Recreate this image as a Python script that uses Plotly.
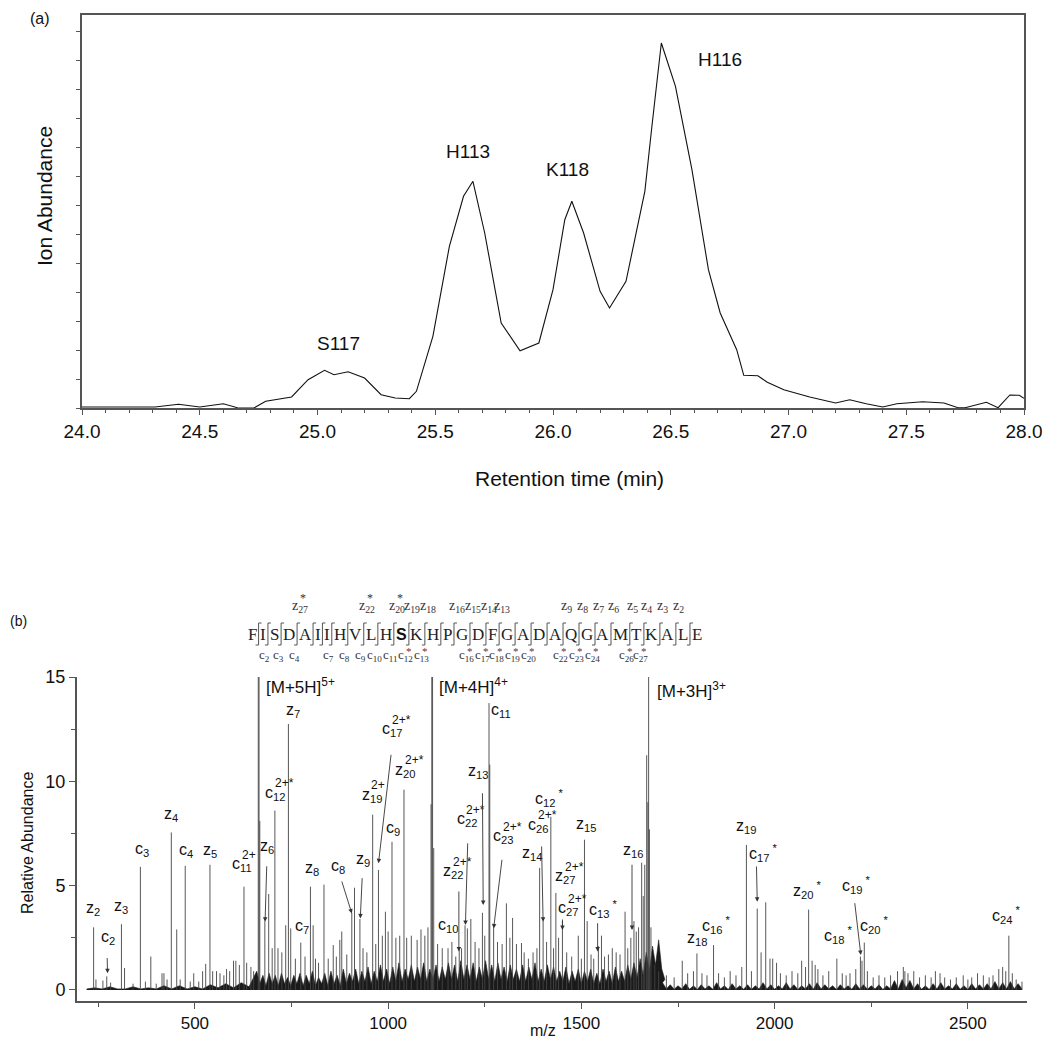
import plotly.graph_objects as go

# ---------------- (a) extracted ion chromatogram ----------------
rt_min = [24.0, 24.08, 24.31, 24.41, 24.5, 24.6, 24.66, 24.73, 24.78, 24.89, 24.96, 25.03,
          25.07, 25.13, 25.2, 25.27, 25.33, 25.39, 25.42, 25.49, 25.56, 25.62, 25.66, 25.71,
          25.78, 25.86, 25.94, 26.0, 26.05, 26.08, 26.13, 26.2, 26.24, 26.31, 26.39, 26.42,
          26.46, 26.52, 26.59, 26.66, 26.71, 26.78, 26.81, 26.87, 26.91, 26.98, 27.09, 27.2,
          27.26, 27.33, 27.4, 27.46, 27.57, 27.66, 27.72, 27.75, 27.84, 27.89, 27.94, 27.98, 28.0]
ion_abundance = [1, 1, 1, 3.7, 1, 4.3, 0.3, 0, 6.7, 11, 28.3, 37.7,
                 33.3, 36.3, 30, 13.3, 10, 9.3, 16.7, 71.7, 161.7, 211.7, 226.7, 175,
                 85, 57.3, 65, 118.3, 188.3, 206.7, 175, 116.7, 100, 126.7, 216.7, 281.7,
                 365, 321.7, 238.3, 138.3, 95, 58.3, 32.7, 32.3, 25.7, 18.3, 11, 5,
                 8.3, 4.3, 1, 4.3, 6.3, 5, 0.3, 0.3, 5.7, 0.3, 13, 12.7, 9.7]
rt_ticks = [24.0, 24.5, 25.0, 25.5, 26.0, 26.5, 27.0, 27.5, 28.0]
site_names = ["S117", "H113", "K118", "H116"]
site_rt = [25.09, 25.64, 26.06, 26.71]
site_y = [65, 256, 238, 348]

# ---------------- (b) ETD spectrum ----------------
peak_mz = [238, 244, 262, 272, 282, 310, 318, 340, 359, 372, 386, 400, 415, 420, 428, 439, 453,
           462, 475, 488, 497, 510, 520, 528, 539, 546, 556, 565, 575, 582, 590, 600, 606, 615,
           627, 634, 645, 652, 664, 666, 668, 681, 691, 700, 707, 715, 725, 735, 742, 748, 760,
           774, 785, 799, 806, 812, 820, 834, 845, 858, 866, 875, 880, 893, 906, 913, 927, 935,
           945, 960, 968, 975, 985, 993, 1000, 1010, 1020, 1030, 1041, 1048, 1060, 1075, 1085,
           1095, 1103, 1111, 1113, 1115, 1118, 1128, 1140, 1155, 1165, 1175, 1184, 1190, 1199,
           1205, 1214, 1225, 1235, 1244, 1250, 1261, 1263, 1273, 1283, 1295, 1306, 1315, 1322,
           1332, 1345, 1352, 1363, 1375, 1385, 1392, 1401, 1410, 1421, 1428, 1434, 1441, 1451,
           1462, 1475, 1492, 1500, 1508, 1515, 1525, 1532, 1544, 1552, 1560, 1570, 1580, 1590,
           1600, 1613, 1620, 1628, 1636, 1642, 1648, 1656, 1660, 1664, 1669, 1672, 1674, 1676,
           1680, 1690, 1700, 1720, 1740, 1761, 1775, 1790, 1799, 1812, 1825, 1842, 1855, 1870,
           1885, 1900, 1915, 1927, 1940, 1955, 1965, 1977, 1988, 1995, 2005, 2015, 2030, 2045,
           2060, 2070, 2080, 2088, 2097, 2105, 2112, 2125, 2140, 2161, 2175, 2185, 2195, 2210,
           2222, 2226, 2232, 2240, 2255, 2270, 2285, 2300, 2318, 2333, 2337, 2345, 2360, 2375,
           2390, 2405, 2416, 2428, 2440, 2455, 2470, 2488, 2500, 2510, 2525, 2540, 2555, 2565,
           2580, 2590, 2598, 2606, 2615, 2625, 2640]
peak_abund = [3.0, 0.5, 0.45, 0.65, 0.35, 3.15, 1.05, 0.3, 5.9, 0.4, 1.6, 0.3, 0.8, 0.8, 0.5, 7.55, 2.9,
              0.5, 5.95, 0.4, 0.8, 0.4, 0.9, 1.25, 6.0, 0.9, 0.9, 0.8, 0.7, 1.0, 0.9, 1.4, 1.4, 1.2,
              4.95, 1.3, 1.1, 0.9, 16, 16, 8.1, 3.3, 4.6, 2.0, 8.6, 2.0, 1.8, 3.1, 12.75, 2.95, 1.5,
              2.27, 1.6, 4.95, 3.1, 1.5, 1.3, 5.05, 1.5, 2.15, 1.6, 2.4, 2.8, 1.7, 3.7, 4.9, 3.4, 2.0,
              1.8, 8.4, 2.2, 5.75, 2.6, 3.75, 2.8, 7.1, 2.5, 2.6, 9.6, 2.5, 2.6, 2.4, 2.9,
              2.6, 3.0, 8.9, 16, 15.5, 6.8, 2.2, 2.0, 2.0, 2.3, 1.6, 1.9, 2.0, 3.1,
              2.95, 3.4, 2.3, 2.0, 3.7, 2.6, 13.75, 10.8, 3.0, 2.3, 2.2, 4.15, 2.5, 3.45,
              2.2, 2.25, 1.8, 1.5, 1.8, 2.0, 5.85, 3.3, 2.3, 8.3, 2.0, 4.65, 2.5, 3.3,
              1.8, 1.6, 2.6, 1.5, 7.2, 3.3, 1.7, 1.5, 2.1, 2.6, 1.6, 1.7, 2.0, 1.8,
              1.7, 3.75, 2.0, 2.5, 3.3, 2.8, 3.0, 6.1, 4.5, 6.0, 11.25, 9.0, 16, 7.7,
              3.0, 1.2, 0.9, 0.7, 0.6, 1.4, 0.8, 0.9, 1.75, 0.8, 0.7, 2.15, 0.8, 0.6,
              0.9, 0.7, 1.1, 6.95, 0.9, 3.9, 1.8, 4.2, 1.5, 1.5, 1.3, 0.8, 0.7, 0.9,
              0.8, 1.4, 1.1, 3.85, 1.4, 1.2, 1.0, 0.7, 0.9, 1.5, 0.8, 0.7, 0.8, 1.0,
              1.6, 1.4, 2.27, 0.9, 0.6, 0.7, 0.6, 0.7, 0.9, 1.1, 0.9, 0.8, 0.9, 0.6,
              0.7, 0.6, 0.9, 0.8, 0.6, 0.5, 0.6, 0.7, 0.5, 0.6, 0.8, 0.7, 0.6, 0.7,
              1.0, 1.1, 0.9, 2.6, 0.8, 0.5, 0.4]

# unresolved chemical-noise floor (three sampled stretches)
noise_a_start, noise_a_step = 220, 20
noise_a = [0.05, 0.1, 0.05, 0.15, 0.05, 0.05, 0.15, 0.05, 0.1, 0.05, 0.2, 0.05, 0.2, 0.05, 0.15,
           0.05, 0.25, 0.1, 0.3, 0.1, 0.35, 0.15]
noise_b_start, noise_b_step = 660, 8
noise_b = [0.9, 0.3, 0.7, 0.2, 0.8, 0.3, 0.7, 0.2, 0.8, 0.3, 0.6, 0.2, 0.7, 0.3, 0.8,
           0.2, 0.7, 0.3, 0.9, 0.2, 0.6, 0.3, 0.8, 0.2, 0.9, 0.3, 0.7, 0.2, 1.0, 0.3,
           0.8, 0.4, 1.0, 0.3, 0.9, 0.4, 1.1, 0.3, 0.9, 0.4, 1.2, 0.4, 1.0, 0.3, 1.1,
           0.4, 1.3, 0.4, 1.0, 0.5, 1.2, 0.4, 1.1, 0.5, 1.3, 0.4, 1.0, 0.5, 1.2, 0.4,
           1.1, 0.5, 1.3, 0.5, 1.2, 0.4, 1.4, 0.5, 1.2, 0.5, 1.3, 0.4, 1.1, 0.5, 1.4,
           0.5, 1.2, 0.4, 1.3, 0.5, 1.1, 0.4, 1.2, 0.5, 1.0, 0.4, 1.2, 0.4, 1.1, 0.5,
           1.3, 0.4, 1.0, 0.4, 1.2, 0.5, 1.1, 0.4, 0.9, 0.4, 1.1, 0.3, 0.9, 0.4, 1.0,
           0.3, 0.9, 0.4, 1.0, 0.3, 0.8, 0.3, 1.0, 0.4, 0.9, 0.3, 1.1, 0.4, 0.9, 0.4,
           1.2, 0.5, 1.3, 0.6, 1.5, 0.7, 1.8, 0.9, 2.1, 1.2, 2.4, 1.0, 0.5]
noise_c_start, noise_c_step = 1710, 10
noise_c = [0.35, 0.05, 0.25, 0.03, 0.2, 0.05, 0.3, 0.03, 0.2, 0.02, 0.25, 0.05, 0.2, 0.03, 0.35,
           0.05, 0.2, 0.02, 0.3, 0.05, 0.2, 0.03, 0.25, 0.02, 0.2, 0.05, 0.35, 0.05, 0.25, 0.03,
           0.2, 0.05, 0.35, 0.05, 0.25, 0.02, 0.2, 0.05, 0.3, 0.03, 0.35, 0.05, 0.25, 0.05, 0.2,
           0.02, 0.25, 0.05, 0.2, 0.03, 0.3, 0.05, 0.25, 0.03, 0.2, 0.05, 0.25, 0.02, 0.2, 0.05,
           0.45, 0.05, 0.5, 0.1, 0.45, 0.05, 0.3, 0.03, 0.2, 0.02, 0.3, 0.05, 0.35, 0.05, 0.2,
           0.05, 0.3, 0.03, 0.2, 0.02, 0.3, 0.05, 0.25, 0.05, 0.3, 0.05, 0.4, 0.05, 0.35, 0.05,
           0.4, 0.05, 0.3, 0.05]

# fragment-ion labels: letter, index, charge/mark (superscript), position
ion_letter = ["z", "c", "z", "c", "z", "c", "z", "c", "z", "c", "z", "c", "z", "c", "z", "z",
              "c", "c", "z", "c", "z", "c", "z", "c", "c", "z", "c", "c", "z", "c", "z", "c",
              "z", "z", "c", "z", "c", "z", "c", "c", "c", "c"]
ion_index = [2, 2, 3, 3, 4, 4, 5, 11, 6, 12, 7, 7, 8, 8, 9, 19, 17, 9, 20, 10, 22, 22, 13, 11,
             23, 14, 26, 12, 27, 27, 15, 13, 16, 18, 16, 19, 17, 20, 18, 19, 20, 24]
ion_mark = ["", "", "", "", "", "", "", "2+", "", "2+*", "", "", "", "", "", "2+", "2+*", "",
            "2+*", "", "2+*", "2+*", "", "", "2+*", "", "2+*", "*", "2+*", "2+*", "", "*", "",
            "", "*", "", "*", "*", "*", "*", "*", "*"]
ion_label_mz = [237, 274, 310, 362, 437, 477, 539, 623, 686, 707, 754, 776, 802, 871, 934, 957,
                1011, 1013, 1043, 1155, 1168, 1203, 1233, 1293, 1297, 1373, 1388, 1418, 1457, 1466,
                1513, 1556, 1634, 1799, 1849, 1927, 1970, 2086, 2164, 2211, 2259, 2601]
ion_label_y = [3.9, 2.5, 4.0, 6.75, 8.43, 6.7, 6.7, 6.0, 6.87, 9.43, 13.4, 3.03, 5.8, 5.9, 6.27,
               9.34, 12.46, 7.75, 10.54, 3.11, 5.67, 8.15, 10.46, 13.4, 7.35, 6.55, 7.9, 9.18,
               5.43, 3.9, 7.95, 3.9, 6.7, 2.47, 3.11, 7.83, 6.55, 4.79, 2.64, 5.03, 3.11, 3.59]

arrow_tail_mz = [273, 686, 879, 933, 1008, 1183, 1206, 1244, 1295, 1397, 1451, 1542, 1631, 1953, 2207]
arrow_tail_y = [1.6, 6.0, 5.27, 5.43, 11.34, 4.79, 7.1, 9.5, 6.31, 6.95, 3.45, 3.27, 6.07, 5.99, 4.23]
arrow_head_mz = [274, 681.6, 906, 928, 975, 1183, 1200, 1246, 1273, 1401, 1451, 1542, 1631, 1955, 2223]
arrow_head_y = [0.8, 3.27, 3.67, 3.43, 6.07, 1.84, 3.11, 4.07, 2.95, 3.27, 2.87, 1.84, 2.87, 4.23, 1.68]

precursor_text = ["[M+5H]<sup>5+</sup>", "[M+4H]<sup>4+</sup>", "[M+3H]<sup>3+</sup>"]
precursor_mz = [678.6, 1126.8, 1689.6]
precursor_y = [14.55, 14.55, 14.4]

sequence = "FISDAIIHVLHSKHPGDFGADAQGAMTKALE"
modified_residue = 11          # bold S (0-based index)
z_ions = [27, 22, 20, 19, 18, 16, 15, 14, 13, 9, 8, 7, 6, 5, 4, 3, 2]
z_star = [27, 22, 20]
c_ions = [2, 3, 4, 7, 8, 9, 10, 11, 12, 13, 16, 17, 18, 19, 20, 22, 23, 24, 26, 27]
c_star = [12, 13, 16, 17, 18, 19, 20, 22, 23, 24, 26, 27]

# ---------------- figure ----------------
PAGE_OFF = 8                  # default body margin of the html page
W, H = 1050 - PAGE_OFF, 1038 - PAGE_OFF
FONT = "Liberation Sans, Arial, sans-serif"
SERIF = "Liberation Serif, Times New Roman, serif"


def px(xp):
    return (xp - PAGE_OFF) / W


def py(yp):
    return 1 - (yp - PAGE_OFF) / H


fig = go.Figure()

fig.add_trace(go.Scatter(x=rt_min, y=ion_abundance, mode="lines",
                         line=dict(color="#111111", width=1.1),
                         xaxis="x", yaxis="y", showlegend=False, hoverinfo="skip"))

noise_mz, noise_h = [], []
for start, step, vals in [(noise_a_start, noise_a_step, noise_a),
                          (noise_b_start, noise_b_step, noise_b),
                          (noise_c_start, noise_c_step, noise_c)]:
    for i, v in enumerate(vals):
        noise_mz.append(start + i * step)
        noise_h.append(v)
fig.add_trace(go.Scatter(x=noise_mz, y=noise_h, mode="lines", fill="tozeroy",
                         fillcolor="#1a1a1a", line=dict(color="#1a1a1a", width=0.6),
                         xaxis="x2", yaxis="y2", showlegend=False, hoverinfo="skip"))

stick_x, stick_y = [], []
for m, a in zip(peak_mz, peak_abund):
    stick_x += [m, m, None]
    stick_y += [0, a, None]
fig.add_trace(go.Scatter(x=stick_x, y=stick_y, mode="lines",
                         line=dict(color="#444444", width=0.9),
                         xaxis="x2", yaxis="y2", showlegend=False, hoverinfo="skip"))

annotations = []


def note(**kw):
    kw.setdefault("showarrow", False)
    kw.setdefault("xanchor", "center")
    kw.setdefault("yanchor", "middle")
    annotations.append(kw)


# panel (a) labels
for name, r, yv in zip(site_names, site_rt, site_y):
    note(x=r, y=yv, xref="x", yref="y", text=name,
         font=dict(family=FONT, size=19, color="#111"))
note(x=px(40), y=1, yanchor="top", xref="paper", yref="paper", text="(a)",
     font=dict(family=FONT, size=16, color="#111"))
note(x=px(569), y=py(478), xref="paper", yref="paper", text="Retention time (min)",
     font=dict(family=FONT, size=21, color="#111"))
note(x=px(44), y=py(196), xref="paper", yref="paper", text="Ion Abundance", textangle=-90,
     font=dict(family=FONT, size=21, color="#111"))

# panel (b) labels
note(x=px(18), y=py(621), xref="paper", yref="paper", text="(b)",
     font=dict(family=FONT, size=14, color="#111"))
note(x=px(27), y=py(843), xref="paper", yref="paper", text="Relative Abundance",
     textangle=-90, font=dict(family=FONT, size=16, color="#111"))
note(x=px(543), y=py(1030), xref="paper", yref="paper", text="m/z",
     font=dict(family=FONT, size=16, color="#111"))
for t, m, yv in zip(precursor_text, precursor_mz, precursor_y):
    note(x=m, y=yv, xref="x2", yref="y2", text=t, xanchor="left",
         font=dict(family=FONT, size=17, color="#111"))

LBL = 16
for let, idx, mark, m, yv in zip(ion_letter, ion_index, ion_mark, ion_label_mz, ion_label_y):
    base = "{}<sub>{}</sub>".format(let, idx)
    if mark.startswith("2+"):
        # charge state stacked above the subscript
        sub_w = 0.556 * 0.7 * LBL * len(str(idx))
        base_w = 0.5 * LBL + sub_w
        note(x=m, y=yv, xref="x2", yref="y2", text=base,
             font=dict(family=FONT, size=LBL, color="#111"))
        note(x=m, y=yv, xref="x2", yref="y2", text=mark, xanchor="left",
             xshift=-base_w / 2 + 0.5 * LBL, yshift=10,
             font=dict(family=FONT, size=12, color="#111"))
    elif mark:
        note(x=m, y=yv, xref="x2", yref="y2", text=base + "<sup> " + mark + "</sup>",
             font=dict(family=FONT, size=LBL, color="#111"))
    else:
        note(x=m, y=yv, xref="x2", yref="y2", text=base,
             font=dict(family=FONT, size=LBL, color="#111"))

for tm, ty, hm, hy in zip(arrow_tail_mz, arrow_tail_y, arrow_head_mz, arrow_head_y):
    annotations.append(dict(x=hm, y=hy, ax=tm, ay=ty, xref="x2", yref="y2",
                            axref="x2", ayref="y2", text="", showarrow=True,
                            arrowhead=2, arrowsize=1, arrowwidth=0.9, arrowcolor="#333",
                            standoff=0, startstandoff=0))

# peptide sequence with fragmentation map
glyph_w = dict(F=556, I=333, S=556, D=722, A=722, H=722, V=722, L=611, K=722, P=556,
               G=722, Q=722, M=889, T=611, E=611)
fs = 17
widths = [(667 if i == modified_residue else glyph_w[ch]) * fs / 1000.0
          for i, ch in enumerate(sequence)]
x_first, x_last = 252.0, 697.0
inner = widths[0] / 2 + sum(widths[1:-1]) + widths[-1] / 2
gap = (x_last - x_first - inner) / (len(sequence) - 1)
centers = [x_first]
for i in range(1, len(sequence)):
    centers.append(centers[-1] + widths[i - 1] / 2 + widths[i] / 2 + gap)
seps = [centers[i] + widths[i] / 2 + gap / 2 for i in range(len(sequence) - 1)]

y_letters = 634
for i, ch in enumerate(sequence):
    if i == modified_residue:
        note(x=px(centers[i]), y=py(y_letters), xref="paper", yref="paper", text="<b>S</b>",
             font=dict(family=FONT, size=16, color="#111"))
    else:
        note(x=px(centers[i]), y=py(y_letters), xref="paper", yref="paper", text=ch,
             font=dict(family=SERIF, size=fs, color="#222"))

path = ""
top, bot, hook = 623, 645, 3
for s in seps:
    path += "M{:.5f},{:.5f} L{:.5f},{:.5f} L{:.5f},{:.5f} L{:.5f},{:.5f} ".format(
        px(s + hook), py(top), px(s), py(top), px(s), py(bot), px(s - hook), py(bot))
shapes = [dict(type="path", path=path, xref="paper", yref="paper",
               line=dict(color="#555", width=1))]

for n in z_ions:
    k = len(sequence) - n
    note(x=px(seps[k - 1] + 3), y=py(606), xref="paper", yref="paper",
         text="z<sub>{}</sub>".format(n),
         font=dict(family=SERIF, size=14, color="#333"))
    if n in z_star:
        note(x=px(seps[k - 1] + 6), y=py(598), xref="paper", yref="paper", text="*",
             font=dict(family=SERIF, size=12, color="#333"))
for n in c_ions:
    note(x=px(seps[n - 1] - 3), y=py(655), xref="paper", yref="paper",
         text="c<sub>{}</sub>".format(n),
         font=dict(family=SERIF, size=13, color="#333"))
    if n in c_star:
        note(x=px(seps[n - 1] + 0.5), y=py(651), xref="paper", yref="paper", text="*",
             font=dict(family=SERIF, size=11, color="#7a2b2b"))

axis_line = "#555555"
fig.update_layout(
    width=W, height=H,
    margin=dict(l=0, r=0, t=0, b=0, autoexpand=False),
    paper_bgcolor="white", plot_bgcolor="white",
    showlegend=False,
    font=dict(family=FONT, color="#111"),
    xaxis=dict(domain=[px(82), px(1024)], anchor="y", range=[24, 28], automargin=False,
               tickvals=rt_ticks, ticktext=["{:.1f}".format(t) for t in rt_ticks],
               ticks="outside", ticklen=5, tickcolor=axis_line,
               minor=dict(dtick=0.1, tick0=24, ticks="outside", ticklen=3, tickcolor=axis_line),
               showline=True, linecolor=axis_line, linewidth=1.5, mirror=True,
               showgrid=False, zeroline=False, tickfont=dict(size=19, family=FONT, color="#111")),
    yaxis=dict(domain=[py(408), py(15)], anchor="x", range=[0, 393], automargin=False,
               tick0=0, dtick=29, ticks="outside", ticklen=4, tickcolor=axis_line,
               showticklabels=False, showline=True, linecolor=axis_line, linewidth=1.5,
               mirror=True, showgrid=False, zeroline=False),
    xaxis2=dict(domain=[px(77), px(1027)], anchor="y2", range=[195, 2653], automargin=False,
                tickvals=[500, 1000, 1500, 2000, 2500], ticks="outside", ticklen=6,
                tickcolor=axis_line,
                minor=dict(dtick=250, tick0=0, ticks="outside", ticklen=4, tickcolor=axis_line),
                showline=True, linecolor=axis_line, linewidth=2, showgrid=False,
                zeroline=False, tickfont=dict(size=17, family=FONT, color="#111")),
    yaxis2=dict(domain=[py(1001), py(677)], anchor="x2", range=[-0.53, 15], automargin=False,
                tickvals=[0, 5, 10, 15], ticks="outside", ticklen=6, tickcolor=axis_line,
                minor=dict(dtick=2.5, tick0=0, ticks="outside", ticklen=4, tickcolor=axis_line),
                showline=True, linecolor=axis_line, linewidth=2, showgrid=False,
                zeroline=False, tickfont=dict(size=18, family=FONT, color="#111")),
    annotations=annotations,
    shapes=shapes,
)

fig.write_html("out.html")
